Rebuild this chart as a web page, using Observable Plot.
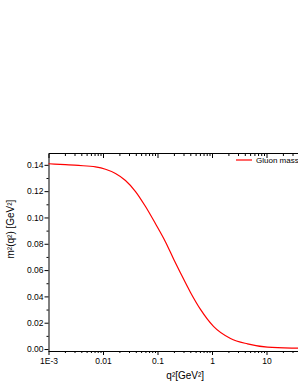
<!DOCTYPE html>
<html>
<head>
<meta charset="utf-8">
<script src="https://cdn.jsdelivr.net/npm/d3@7"></script>
<script src="https://cdn.jsdelivr.net/npm/@observablehq/plot@0.6"></script>
<style>
  html, body { margin: 0; padding: 0; background: #fff; overflow: hidden; width: 298px; height: 385px; }
  #wrap { position: relative; width: 340px; height: 385px; }
  #legend { position: absolute; left: 236px; top: 154px; height: 12px; font: 8px "Liberation Sans", Arial, sans-serif; color: #000; white-space: nowrap; display: flex; align-items: center; }
  #legend svg { margin-right: 4px; }
</style>
</head>
<body>
<div id="wrap"><div id="legend"><svg width="16" height="4"><line x1="0" x2="16" y1="2" y2="2" stroke="#ff0000" stroke-width="1.2"/></svg>Gluon mass</div></div>
<script>
// momentum q^2 [GeV^2] and gluon mass m^2(q^2) [GeV^2]
const q2 = [0.001, 0.002, 0.00348, 0.00713, 0.01088, 0.0166, 0.0253, 0.0387, 0.059, 0.090, 0.1373, 0.195, 0.2587, 0.3947, 0.602, 1.043, 2.14, 4.39, 10.2, 36.3, 100];
const m2 = [0.1412, 0.1405, 0.1399, 0.1388, 0.1370, 0.1338, 0.1285, 0.1201, 0.1087, 0.0956, 0.0818, 0.0685, 0.0582, 0.0434, 0.0305, 0.0176, 0.0084, 0.0043, 0.0018, 0.0010, 0.0007];

const xMajor = [0.001, 0.01, 0.1, 1, 10];
const xMajorLabels = ["1E-3", "0.01", "0.1", "1", "10"];
const xMinor = [0.001, 0.01, 0.1, 1, 10].flatMap(d => [2,3,4,5,6,7,8,9].map(k => k * d));
const yMajor = [0, 0.02, 0.04, 0.06, 0.08, 0.10, 0.12, 0.14];
const yMinor = [0.01, 0.03, 0.05, 0.07, 0.09, 0.11, 0.13];

const data = q2.map((q, i) => ({q, m: m2[i]}));
const font = '"Liberation Sans", Arial, sans-serif';

const chart = Plot.plot({
  width: 340,
  height: 385,
  marginLeft: 48.5,
  marginRight: 19,
  marginTop: 153,
  marginBottom: 34,
  style: {fontFamily: font, fontSize: "8.5px", color: "#000", background: "#fff"},
  x: {type: "log", domain: [0.001, 100]},
  y: {domain: [-0.0015, 0.149]},
  marks: [
    Plot.frame({stroke: "#000", strokeWidth: 1}),
    Plot.axisX({ticks: xMajor, tickFormat: d => xMajorLabels[xMajor.indexOf(d)], tickSize: 4, tickPadding: 2.5, label: null, fontSize: 8.5}),
    Plot.axisX({ticks: xMinor, text: null, tickSize: 2, label: null}),
    Plot.axisX({anchor: "top", ticks: xMajor, text: null, tickSize: -4, label: null}),
    Plot.axisX({anchor: "top", ticks: xMinor, text: null, tickSize: -2, label: null}),
    Plot.axisY({ticks: yMajor, tickFormat: ".2f", tickSize: 4, tickPadding: 1.5, label: null, fontSize: 8.5}),
    Plot.axisY({ticks: yMinor, text: null, tickSize: 2, label: null}),
    Plot.line(data, {x: "q", y: "m", stroke: "#ff0000", strokeWidth: 1.2, curve: "monotone-x"}),
    Plot.text(["q²[GeV²]"], {frameAnchor: "bottom", dy: 27, fontSize: 10, fill: "#000"}),
    Plot.text(["m²(q²) [GeV²]"], {frameAnchor: "left", dx: -38, dy: 6, rotate: -90, fontSize: 10, fill: "#000"})
  ]
});
document.getElementById("wrap").prepend(chart);
chart.style.position = "absolute";
chart.style.left = "0";
chart.style.top = "0";
</script>
</body>
</html>
